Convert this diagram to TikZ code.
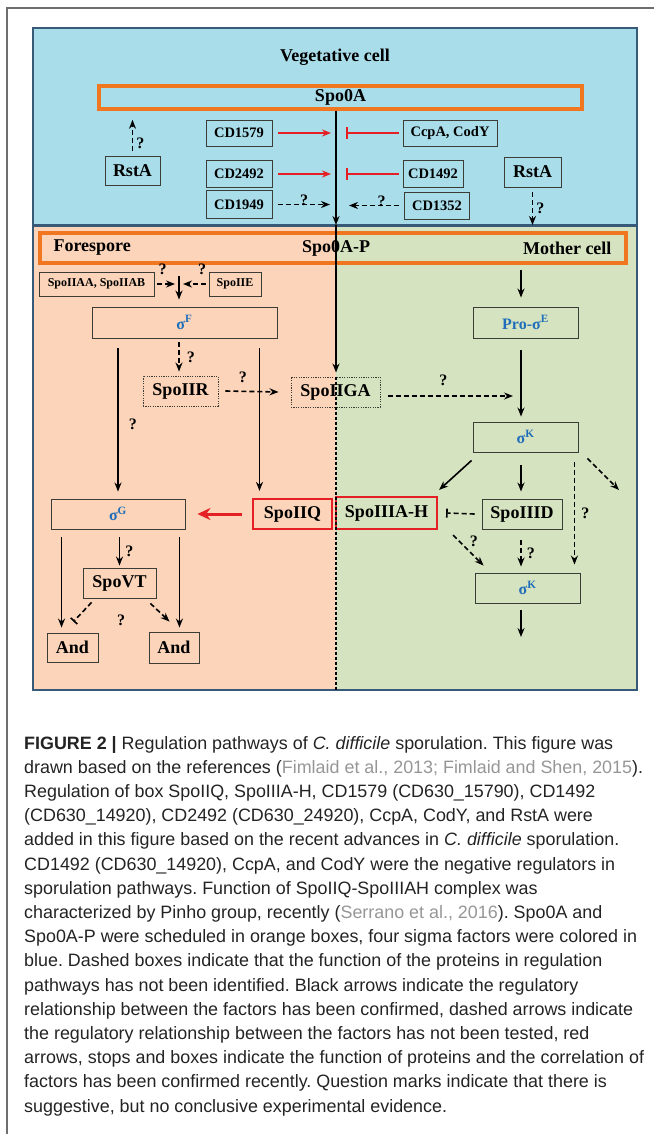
\documentclass[tikz,border=0pt]{standalone}
\usepackage{fontspec}
\setmainfont{Liberation Serif}
\newfontfamily\capfont{Liberation Sans}
\usetikzlibrary{arrows.meta}

\definecolor{bluebg}{RGB}{169,221,233}
\definecolor{peachbg}{RGB}{251,212,185}
\definecolor{greenbg}{RGB}{214,227,192}
\definecolor{frameblue}{RGB}{55,90,120}
\definecolor{orangeline}{RGB}{240,118,32}
\definecolor{redline}{RGB}{228,32,36}
\definecolor{sigblue}{RGB}{30,110,185}
\definecolor{boxedge}{RGB}{60,60,55}
\definecolor{citegray}{RGB}{150,150,150}
\definecolor{capframe}{RGB}{110,110,110}
\definecolor{captext}{RGB}{35,35,35}

\begin{document}
\frenchspacing
\begin{tikzpicture}[x=1pt, y=-1pt,
    pbox/.style={draw=boxedge, line width=0.9pt, inner sep=0pt,
      font=\fontsize{18}{18}\selectfont\bfseries},
    cdbox/.style={pbox, font=\fontsize{14.5}{14.5}\selectfont\bfseries},
    smallbox/.style={pbox, font=\fontsize{12}{12}\selectfont\bfseries},
    dotbox/.style={pbox, dash pattern=on 1.2pt off 1.2pt},
    redbox/.style={pbox, draw=redline, line width=2.2pt},
    orabox/.style={draw=orangeline, line width=3.6pt, inner sep=0pt},
    sigtext/.style={text=sigblue, font=\fontsize{16}{16}\selectfont\bfseries},
    blkarrow/.style={-{Stealth[length=9pt,width=7pt]}, line width=1.6pt},
    dasharrow/.style={blkarrow, dash pattern=on 5pt off 3pt},
    dashstop/.style={-{Bar[width=9pt]}, line width=1.6pt, dash pattern=on 5pt off 3pt},
    redarrow/.style={-{Stealth[length=9pt,width=7pt]}, draw=redline, line width=1.8pt},
    redstop/.style={-{Bar[width=12pt]}, draw=redline, line width=1.8pt},
    redbig/.style={-{Stealth[length=13pt,width=12pt]}, draw=redline, line width=3pt},
    qmark/.style={inner sep=0pt, font=\fontsize{16}{16}\selectfont\bfseries},
    divline/.style={line width=1.2pt, dash pattern=on 3pt off 2pt}]

  \useasboundingbox (0,0) rectangle (654,1134);

  % page frame
  \draw[capframe, line width=1.2pt] (654,8) -- (7,8) -- (7,1134);

  % the three cell compartments
  \fill[bluebg] (33,28) rectangle (637,225);
  \fill[peachbg] (33,225) rectangle (336,690);
  \fill[greenbg] (336,225) rectangle (637,690);
  \draw[frameblue, line width=1.5pt] (33,28) rectangle (637,690);
  \draw[frameblue, line width=3pt] (33,225) -- (637,225);

  \coordinate (spine) at (336,225);
  \coordinate (spineEnd) at (336,690);
  \coordinate (mline) at (521,0);

  % vegetative cell
  \node[font=\fontsize{18}{18}\selectfont\bfseries] (veg) at (335,57) {Vegetative cell};
  \node[orabox, minimum width=483pt, minimum height=23pt,
    font=\fontsize{18}{18}\selectfont\bfseries] (spoA) at (340.5,97.5) {Spo0A};

  \node[cdbox, minimum width=66pt, minimum height=26pt] (cdA) at (239,133) {CD1579};
  \node[cdbox, minimum width=94pt, minimum height=26pt] (ccp) at (450,133) {CcpA, CodY};
  \node[cdbox, minimum width=66pt, minimum height=27pt] (cdB) at (239,174) {CD2492};
  \node[cdbox, minimum width=60pt, minimum height=27pt] (cdC) at (433,174) {CD1492};
  \node[cdbox, minimum width=66pt, minimum height=28pt] (cdD) at (239,204.5) {CD1949};
  \node[cdbox, minimum width=65pt, minimum height=27pt] (cdE) at (437,205.5) {CD1352};
  \node[pbox, minimum width=55pt, minimum height=29pt] (rstL) at (132.5,170.5) {RstA};
  \node[pbox, minimum width=57pt, minimum height=30pt] (rstR) at (532.5,172) {RstA};

  \draw[blkarrow] (spoA.south -| spine) -- (spine);

  % positive (red arrows) and negative (red stops) regulators
  \draw[redarrow] ([xshift=6pt]cdA.east) -- ([xshift=-5pt]cdA.east -| spine);
  \draw[redarrow] ([xshift=6pt]cdB.east) -- ([xshift=-5pt]cdB.east -| spine);
  \draw[redstop] ([xshift=-4pt]ccp.west) -- ([xshift=10pt]ccp.west -| spine);
  \draw[redstop] ([xshift=-4pt]cdC.west) -- ([xshift=10pt]cdC.west -| spine);

  % untested links
  \draw[dasharrow] ([xshift=6pt]cdD.east) -- ([xshift=-6pt]cdD.east -| spine)
    node[qmark, midway, above=-2pt] {?};
  \draw[dasharrow] ([xshift=-5pt]cdE.west) -- ([xshift=13pt]cdE.west -| spine)
    node[qmark, pos=0.35, above=-2pt] {?};
  \draw[dasharrow] ([yshift=5pt]rstL.north) -- ([yshift=-9pt]rstL.north |- spoA.south)
    node[qmark, pos=0.25, right=3pt] {?};
  \draw[dasharrow] ([yshift=-5pt]rstR.south) -- (rstR.south |- spine)
    node[qmark, midway, right=3pt] {?};

  % sporulating cell
  \node[orabox, minimum width=586pt, minimum height=30pt] (spoAP) at (333,248) {};
  \node[font=\fontsize{18}{18}\selectfont\bfseries] (spoAPtxt) at (336,248) {Spo0A-P};
  \node[font=\fontsize{18}{18}\selectfont\bfseries, anchor=west] (fore) at (50,248) {Forespore};
  \node[font=\fontsize{18}{18}\selectfont\bfseries, anchor=east] (mother) at (615,248) {Mother cell};

  % forespore
  \node[smallbox, minimum width=115pt, minimum height=24pt] (iiaa) at (96.5,284) {SpoIIAA, SpoIIAB};
  \node[smallbox, minimum width=52pt, minimum height=24pt] (iie) at (235,284) {SpoIIE};
  \node[pbox, minimum width=185pt, minimum height=31pt, sigtext] (sigF) at (184.5,322.5) {σ\textsuperscript{F}};
  \node[dotbox, minimum width=75pt, minimum height=30pt] (iir) at (180.5,391) {SpoIIR};
  \node[dotbox, minimum width=89pt, minimum height=30pt] (iiga) at (335.5,392) {SpoIIGA};
  \node[pbox, minimum width=134pt, minimum height=30pt, sigtext] (sigG) at (118,514) {σ\textsuperscript{G}};
  \node[redbox, minimum width=79pt, minimum height=30pt] (iiq) at (292.5,514) {SpoIIQ};
  \node[pbox, minimum width=73pt, minimum height=30pt] (spoVT) at (119.5,583) {SpoVT};
  \node[pbox, minimum width=51pt, minimum height=29pt] (andL) at (72.5,647.5) {And};
  \node[pbox, minimum width=50pt, minimum height=31pt] (andR) at (174,647.5) {And};

  % mother cell
  \node[pbox, minimum width=105pt, minimum height=31pt, sigtext] (proE) at (525.5,322.5) {Pro-σ\textsuperscript{E}};
  \node[pbox, minimum width=105pt, minimum height=30pt, sigtext] (kA) at (525.5,437) {σ\textsuperscript{K}};
  \node[redbox, minimum width=101pt, minimum height=32pt] (iiia) at (386.5,513) {SpoIIIA-H};
  \node[pbox, minimum width=80pt, minimum height=30pt] (iiid) at (522,514) {SpoIIID};
  \node[pbox, minimum width=105pt, minimum height=30pt, sigtext] (kB) at (527.5,588) {σ\textsuperscript{K}};

  \coordinate (fin) at ([xshift=-5.5pt]sigF.north);
  \coordinate (qin) at ([xshift=-33pt]iiq.north);
  \coordinate (gL) at ([xshift=11pt]sigG.south west);
  \coordinate (gR) at ([xshift=-6pt]sigG.south east);
  \coordinate (kout) at (619,490);
  \coordinate (kBout) at (521,637);

  % Spo0A-P down the middle, then the dashed border of the two cells
  \draw[divline] (iiga.north -| spine) -- (spineEnd);
  \draw[blkarrow] (spine) -- ([yshift=4pt]iiga.north -| spine);

  % sigma F activation
  \draw[blkarrow] ([yshift=-11pt]spoAP.south -| fin) -- ([yshift=7pt]fin);
  \draw[dasharrow] ([xshift=3pt]iiaa.east) -- ([xshift=-4pt]iiaa.east -| fin)
    node[qmark, pos=0.3, above=8pt] {?};
  \draw[dasharrow] ([xshift=-3pt]iie.west) -- ([xshift=4pt]iie.west -| fin)
    node[qmark, pos=0.15, above=8pt] {?};
  \draw[dasharrow] ([yshift=-4pt]sigF.south -| fin) -- ([yshift=4pt]iir.north -| fin)
    node[qmark, midway, right=7pt] {?};
  \draw[blkarrow] ([yshift=-10pt]sigF.south -| sigG.north) -- ([yshift=7pt]sigG.north)
    node[qmark, pos=0.53, right=10pt] {?};
  \draw[blkarrow] ([yshift=-10pt]sigF.south -| qin) -- ([yshift=7pt]qin);
  \draw[dasharrow] ([xshift=7pt]iir.east) -- ([xshift=-12pt]iiga.west)
    node[qmark, pos=0.33, above=8pt] {?};
  \draw[dasharrow] ([xshift=8pt,yshift=-4pt]iiga.east) -- ([xshift=-8pt,yshift=-4pt]iiga.east -| mline)
    node[qmark, pos=0.44, above=9pt] {?};

  % sigma G and its targets
  \draw[redbig] ([xshift=-10pt]iiq.west) -- ([xshift=12pt]sigG.east);
  \draw[blkarrow] ([yshift=-8pt]sigG.south -| spoVT.north) -- ([yshift=2pt]spoVT.north)
    node[qmark, midway, right=5pt] {?};
  \draw[blkarrow] ([yshift=-8pt]gL) -- ([yshift=5pt]andL.north -| gL);
  \draw[blkarrow] ([yshift=-8pt]gR) -- ([yshift=4pt]andR.north -| gR);
  \draw[dashstop] ([xshift=9pt,yshift=-4pt]spoVT.south west) -- ([xshift=-25pt,yshift=11pt]andL.north east);
  \draw[dasharrow] ([xshift=-6pt,yshift=-5pt]spoVT.south east) -- ([xshift=21pt,yshift=10pt]andR.north west);
  \node[qmark] (qVT) at (121,620) {?};

  % mother cell cascade
  \draw[blkarrow] ([yshift=-5pt]spoAP.south -| mline) -- ([yshift=9pt]proE.north -| mline);
  \draw[blkarrow] ([yshift=-12pt]proE.south -| mline) -- ([yshift=5pt]kA.north -| mline);
  \draw[blkarrow] ([xshift=-1pt,yshift=-8pt]kA.south west) -- ([xshift=1pt,yshift=6pt]iiia.north east);
  \draw[blkarrow] ([yshift=-13pt]kA.south -| mline) -- ([yshift=7pt]iiid.north -| mline);
  \draw[dasharrow] ([xshift=-4pt,yshift=-10pt]kA.south east) -- ([xshift=-6pt,yshift=8pt]kB.north east)
    node[qmark, midway, right=6pt] {?};
  \draw[dasharrow] ([xshift=9pt,yshift=-6pt]kA.south east) -- (kout);
  \draw[dashstop] ([xshift=-7pt]iiid.west) -- ([xshift=8pt]iiia.east);
  \draw[dasharrow] ([xshift=15pt,yshift=-5pt]iiia.south east) -- ([xshift=9pt,yshift=7pt]kB.north west)
    node[qmark, pos=0.2, right=10pt] {?};
  \draw[dasharrow] ([yshift=-11pt]iiid.south -| mline) -- ([yshift=6pt]kB.north -| mline)
    node[qmark, midway, right=5pt] {?};
  \draw[blkarrow] ([yshift=-7pt]kB.south -| mline) -- (kBout);

  % caption
  \node[anchor=north west, inner sep=0pt, align=left, text=captext,
    font=\capfont\fontsize{17.9}{24.2}\selectfont] (cap) at (24,736) {%
    \textbf{FIGURE 2 |} Regulation pathways of \textit{C. difficile} sporulation. This figure was\\
    drawn based on the references ({\color{citegray}Fimlaid et al., 2013; Fimlaid and Shen, 2015}).\\
    Regulation of box SpoIIQ, SpoIIIA-H, CD1579 (CD630\_15790), CD1492\\
    (CD630\_14920), CD2492 (CD630\_24920), CcpA, CodY, and RstA were\\
    added in this figure based on the recent advances in \textit{C. difficile} sporulation.\\
    CD1492 (CD630\_14920), CcpA, and CodY were the negative regulators in\\
    sporulation pathways. Function of SpoIIQ-SpoIIIAH complex was\\
    characterized by Pinho group, recently ({\color{citegray}Serrano et al., 2016}). Spo0A and\\
    Spo0A-P were scheduled in orange boxes, four sigma factors were colored in\\
    blue. Dashed boxes indicate that the function of the proteins in regulation\\
    pathways has not been identified. Black arrows indicate the regulatory\\
    relationship between the factors has been confirmed, dashed arrows indicate\\
    the regulatory relationship between the factors has not been tested, red\\
    arrows, stops and boxes indicate the function of proteins and the correlation of\\
    factors has been confirmed recently. Question marks indicate that there is\\
    suggestive, but no conclusive experimental evidence.};
\end{tikzpicture}
\end{document}
